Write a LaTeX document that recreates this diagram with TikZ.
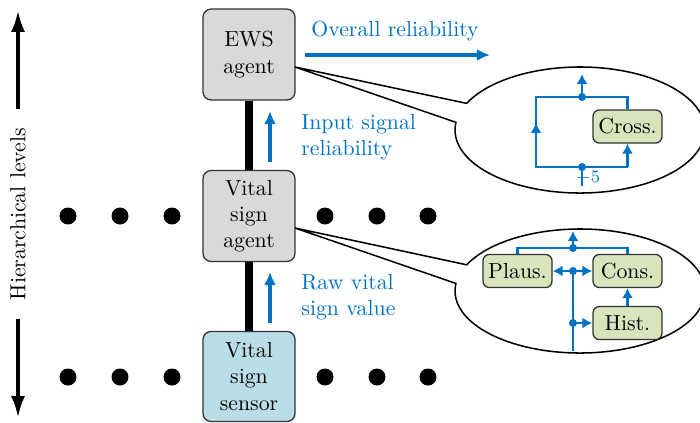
\documentclass[tikz,border=0pt]{standalone}
\usetikzlibrary{arrows.meta,calc}
\definecolor{myblue}{RGB}{0,114,198}
\definecolor{boxgray}{RGB}{217,217,217}
\definecolor{sensorblue}{RGB}{185,222,232}
\definecolor{procgreen}{RGB}{216,228,188}
\begin{document}
\begin{tikzpicture}[x=0.4587pt,y=-0.4587pt,
  agentbox/.style={draw=black!80, line width=0.6pt, rounded corners=3.7pt, minimum width=42.2pt, minimum height=41.7pt, inner sep=0pt, align=center, fill=boxgray},
  procbox/.style={draw=black!80, line width=0.6pt, rounded corners=3pt, fill=procgreen, minimum width=31.7pt, minimum height=15.2pt, inner sep=1pt},
  bluearrow/.style={draw=myblue, line width=1.6pt, -{Latex[length=6pt,width=5.5pt]}},
  flow/.style={draw=myblue, line width=1.1pt},
  flowarrow/.style={flow, -{Latex[length=4.5pt,width=5pt]}},
  bluetext/.style={text=myblue, inner sep=0pt, align=left},
  calloutline/.style={draw=black, line width=0.7pt},
  levelarrow/.style={line width=1.8pt, {Latex[length=10pt,width=6.4pt]}-{Latex[length=10pt,width=6.4pt]}},
  thickbar/.style={line width=3.7pt},
]
\useasboundingbox (0,0) rectangle (700,422);

% hierarchical levels
\coordinate (lt) at (18,10);
\coordinate (lb) at (18,418);
\draw[levelarrow] (lt) -- (lb) node[midway, fill=white, rotate=90, inner xsep=8.5pt, inner ysep=4pt] (hl) {Hierarchical levels};

% boxes
\node[agentbox] (ews) at (249,54.5) {EWS\\agent};
\node[agentbox] (vsa) at (249,216) {Vital\\sign\\agent};
\node[agentbox, fill=sensorblue, minimum height=41.3pt] (vss) at (249,376.5) {Vital\\sign\\sensor};
\draw[thickbar] (ews.south) -- (vsa.north);
\draw[thickbar] (vsa.south) -- (vss.north);

% dots
\foreach \x in {68,120,172,325,377,428} {
  \fill (\x,216) circle[radius=8.5];
  \fill (\x,377) circle[radius=8.5];
}

% blue arrows and labels
\coordinate (o1) at (305,55); \coordinate (o2) at (490,55);
\draw[bluearrow] (o1) -- (o2);
\node[bluetext, anchor=base west] (ovr) at (311,36) {Overall reliability};
\coordinate (a1s) at (270,162); \coordinate (a1e) at (270,111);
\draw[bluearrow] (a1s) -- (a1e);
\node[bluetext, anchor=west] (isr) at (301,137) {Input signal\\reliability};
\coordinate (a2s) at (270,323); \coordinate (a2e) at (270,272);
\draw[bluearrow] (a2s) -- (a2e);
\node[bluetext, anchor=west] (rvs) at (301,297) {Raw vital\\sign value};

% callout 1
\coordinate (c1) at (580,130); \coordinate (p1) at (295,67);
\draw[calloutline] (p1) -- ($(c1)+(205:125 and 63)$) arc[start angle=205, end angle=547, x radius=125, y radius=63] -- cycle;
% callout 2
\coordinate (c2) at (580,291); \coordinate (p2) at (295,228);
\draw[calloutline] (p2) -- ($(c2)+(205:125 and 62)$) arc[start angle=205, end angle=547, x radius=125, y radius=62] -- cycle;

% inner diagram 1
\node[procbox] (cross) at (627.5,126.5) {Cross.};
\coordinate (lpTL) at (536,97); \coordinate (lpTR) at (627.5,97);
\coordinate (lpBL) at (536,167); \coordinate (lpBR) at (627.5,167);
\coordinate (lpT) at (582,97); \coordinate (lpB) at (582,167);
\coordinate (lpOut) at (582,74); \coordinate (lpIn) at (582,186);
\coordinate (lpMid) at (536,123);
\draw[flow] (cross.north) -- (lpTR) -- (lpTL) -- (lpBL) -- (lpBR);
\draw[flowarrow] (lpBR) -- (cross.south);
\draw[flowarrow] (lpBL) -- (lpMid);
\draw[flowarrow] (lpT) -- (lpOut);
\draw[flow] (lpIn) -- (lpB);
\fill[myblue] (lpT) circle[radius=4];
\fill[myblue] (lpB) circle[radius=4];
\node[bluetext, anchor=west, font=\footnotesize] (m5) at (576,178) {$-5$};

% inner diagram 2
\node[procbox] (plaus) at (517.5,271) {Plaus.};
\node[procbox] (cons) at (627.5,271) {Cons.};
\node[procbox] (hist) at (627.5,323) {Hist.};
\coordinate (bT) at (573,248); \coordinate (bOut) at (573,231);
\coordinate (bIn) at (573,351); \coordinate (bS) at (573,271);
\coordinate (bH) at (573,323);
\draw[flow] (plaus.north) |- (bT) -| (cons.north);
\draw[flowarrow] (bT) -- (bOut);
\draw[flow] (bIn) -- (bS);
\draw[flowarrow] (bS) -- (plaus.east);
\draw[flowarrow] (bS) -- (cons.west);
\draw[flowarrow] (bH) -- (hist.west);
\draw[flowarrow] (hist.north) -- (cons.south);
\fill[myblue] (bT) circle[radius=4];
\fill[myblue] (bS) circle[radius=4];
\fill[myblue] (bH) circle[radius=4];
\end{tikzpicture}
\end{document}
